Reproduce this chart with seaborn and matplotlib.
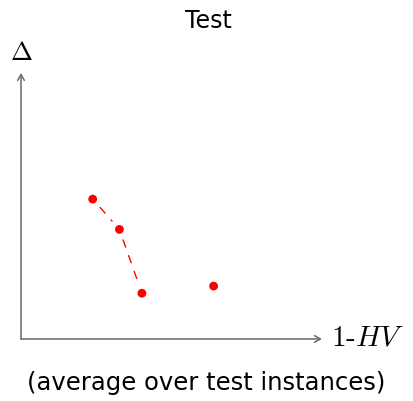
import matplotlib
matplotlib.use("Agg")
import matplotlib.pyplot as plt
import seaborn as sns
import pandas as pd

# Trade-off points: 1-HV on x, spread metric Delta on y
one_minus_hv = [0.239, 0.328, 0.403, 0.642]
delta = [0.526, 0.412, 0.172, 0.199]
# indices of points joined by the dashed front line
front = [0, 1, 2]

title = "Test"
caption = "(average over test instances)"
xlabel = r"$1\text{-}HV$"
ylabel = r"$\Delta$"

sns.set_theme(style="white")
plt.rcParams["font.family"] = ["DejaVu Sans"]
plt.rcParams["mathtext.fontset"] = "cm"
plt.rcParams["text.color"] = "black"

W, H = 414, 401
fig = plt.figure(figsize=(W / 100, H / 100), dpi=100)
# axes box: origin at (21, 339) px, 300 px wide, 266 px tall
ax = fig.add_axes([21 / W, (H - 339) / H, 300 / W, 266 / H])
ax.set_xlim(0, 1)
ax.set_ylim(0, 1)
ax.set_axis_off()

df = pd.DataFrame({"x": one_minus_hv, "y": delta})

# dashed connection between consecutive front points, shortened at both ends
for a, b in zip(front[:-1], front[1:]):
    ax.annotate("", xy=(df.x[b], df.y[b]), xytext=(df.x[a], df.y[a]),
                arrowprops=dict(arrowstyle="-", color="red", lw=1.0,
                                linestyle=(0, (5.5, 6.5)),
                                shrinkA=8, shrinkB=8), zorder=2)

sns.scatterplot(data=df, x="x", y="y", ax=ax, color="red", s=40,
                edgecolor="none", zorder=3, clip_on=False)

# axis arrows
axis_kw = dict(arrowstyle="->,head_length=0.35,head_width=0.2",
               color="#6a6a6a", lw=1.1, shrinkA=0, shrinkB=0)
ax.annotate("", xy=(1.003, 0), xytext=(0, 0), xycoords="axes fraction",
            arrowprops=axis_kw, annotation_clip=False)
ax.annotate("", xy=(0, 1.0), xytext=(0, 0), xycoords="axes fraction",
            arrowprops=axis_kw, annotation_clip=False)

fig.text(208.5 / W, 1 - 21 / H, title, ha="center", va="center", fontsize=17)
fig.text(21 / W, 1 - 53 / H, ylabel, ha="center", va="center", fontsize=19)
fig.text(331 / W, 1 - 338 / H, xlabel, ha="left", va="center", fontsize=21)
fig.text(206.5 / W, 1 - 383 / H, caption, ha="center", va="center", fontsize=17.5)

fig.savefig("out.png", dpi=100, facecolor="white")
